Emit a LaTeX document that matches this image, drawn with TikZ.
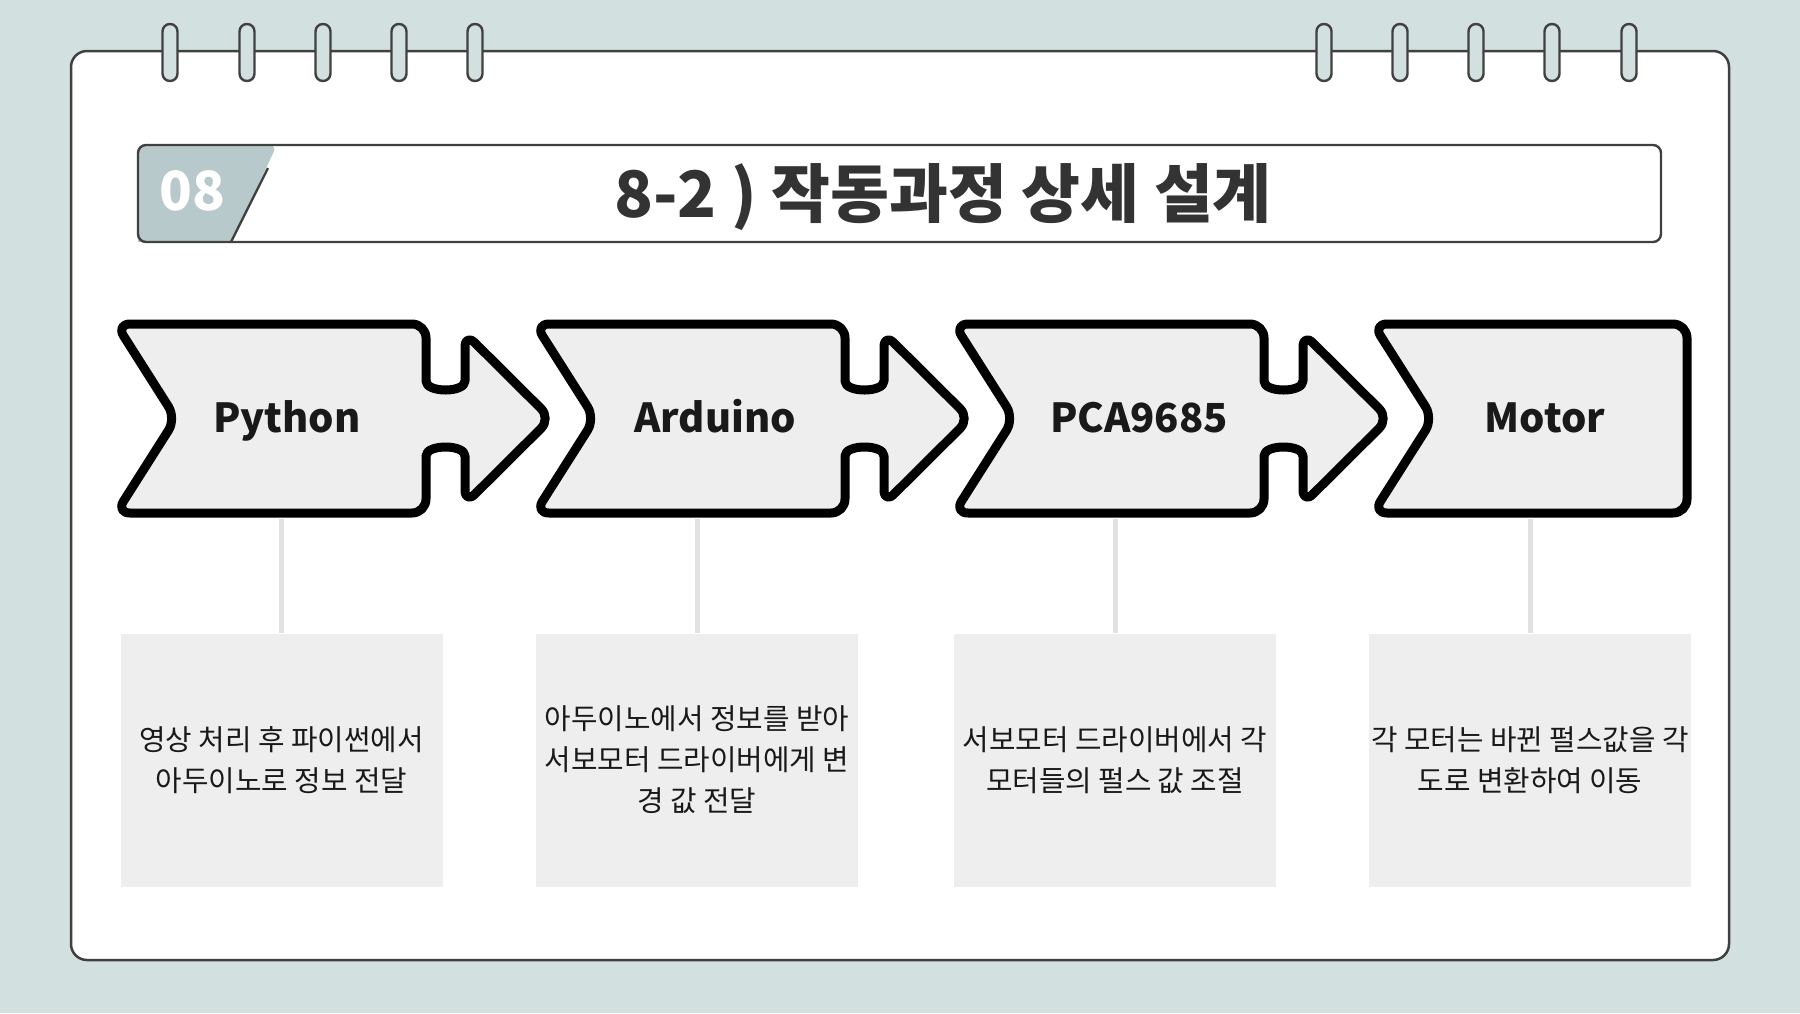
\documentclass[tikz,border=0pt]{standalone}
\usepackage{fontspec}
\setmainfont{Noto Sans CJK KR}

\definecolor{fondo}{HTML}{D3E0E0}
\definecolor{borde}{HTML}{404040}
\definecolor{pestana}{HTML}{B8C9CB}
\definecolor{relleno}{HTML}{EEEEEE}
\definecolor{enlace}{HTML}{E2E2E2}

\tikzset{
  arrowbox/.style={draw=black, fill=relleno, line width=4.5pt, rounded corners=7pt, line join=round},
  steptext/.style={anchor=base, font=\fontsize{20}{24}\selectfont\bfseries, text=black!90},
  descbox/.style={fill=relleno, minimum width=161pt, minimum height=126.5pt, inner sep=0pt,
    align=center, font=\fontsize{14.4}{20.5}\selectfont, text=black!90},
  link/.style={draw=enlace, line width=2.5pt},
  ring/.style={draw=borde, fill=fondo, line width=1.2pt, rounded corners=3.7pt}
}

\begin{document}
\begin{tikzpicture}[x=0.5pt, y=-0.5pt]
    % Fondo y hoja
    \useasboundingbox[fill=fondo] (0,0) rectangle (1800,1013);
    \draw[borde, fill=white, line width=1.25pt, rounded corners=8pt] (71,51) rectangle (1729,960);

    % Anillas
    \foreach \cx in {170,247,323,399,475,1324,1400,1476,1552,1629}
        \draw[ring] (\cx-7.5,24) rectangle (\cx+7.5,81);

    % Titulo
    \fill[pestana, rounded corners=4pt] (138,242) -- (138,145) -- (277,145) [sharp corners] -- (231,242) -- cycle;
    \draw[borde, line width=1.2pt, rounded corners=4pt] (138,145) rectangle (1661,242);
    \draw[borde, line width=1.2pt] (268,168) -- (231,242);
    \node[text=white, font=\fontsize{27}{30}\selectfont\bfseries] (numero) at (192,191) {08};
    \node[text=black!80, font=\fontsize{32}{38}\selectfont\bfseries] (titulo) at (943,197) {8-2 ) 작동과정 상세 설계};

    % Flechas
    \foreach \px in {116,535,954}
        \draw[arrowbox] (\px,324) -- (\px+310,324) -- (\px+310,367)
            .. controls (\px+310,393) and (\px+349,393) .. (\px+349,367)
            -- (\px+349,333) -- (\px+435,418.5) -- (\px+349,504) -- (\px+349,470)
            .. controls (\px+349,444) and (\px+310,444) .. (\px+310,470)
            -- (\px+310,513) -- (\px,513) -- (\px+60,418.5) -- cycle;
    \draw[arrowbox] (1373,324) -- (1687,324) -- (1687,513) -- (1373,513) -- (1433,418.5) -- cycle;

    % Etiquetas de las flechas
    \node[steptext] (python) at (287,432) {Python};
    \node[steptext] (arduino) at (715,432) {Arduino};
    \node[steptext] (pca) at (1139,432) {PCA9685};
    \node[steptext] (motor) at (1545,432) {Motor};

    % Descripciones
    \node[descbox] (pythondesc) at (281.5,760) {영상 처리 후 파이썬에서\\아두이노로 정보 전달};
    \node[descbox] (arduinodesc) at (697,760) {아두이노에서 정보를 받아\\서보모터 드라이버에게 변\\경 값 전달};
    \node[descbox] (pcadesc) at (1115,760) {서보모터 드라이버에서 각\\모터들의 펄스 값 조절};
    \node[descbox] (motordesc) at (1530,760) {각 모터는 바뀐 펄스값을 각\\도로 변환하여 이동};

    % Conectores
    \coordinate (pythonfoot) at (281.5,519);
    \coordinate (arduinofoot) at (697,519);
    \coordinate (pcafoot) at (1115,519);
    \coordinate (motorfoot) at (1530,519);
    \draw[link] (pythonfoot) -- (pythondesc);
    \draw[link] (arduinofoot) -- (arduinodesc);
    \draw[link] (pcafoot) -- (pcadesc);
    \draw[link] (motorfoot) -- (motordesc);
\end{tikzpicture}
\end{document}
